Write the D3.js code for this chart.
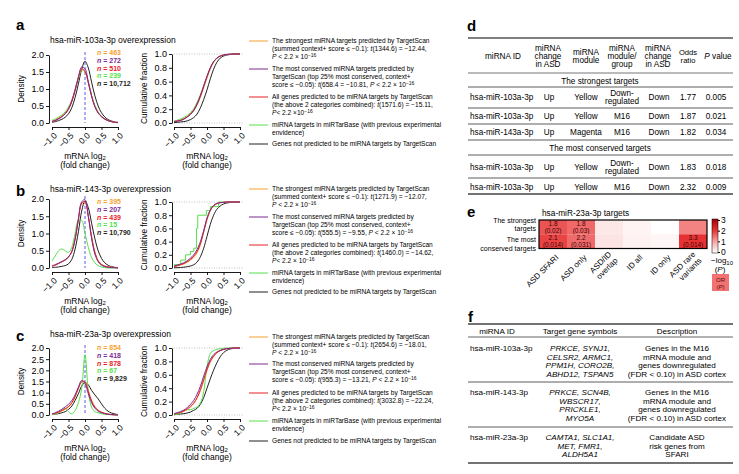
<!DOCTYPE html>
<html><head><meta charset="utf-8">
<script src="https://cdn.jsdelivr.net/npm/d3@7"></script>
<style>body{margin:0;background:#fff;} svg{font-family:"Liberation Sans", Arial, Helvetica, sans-serif;}</style>
</head><body><svg id="c" width="739" height="474"></svg>
<script>
// ---------------- DATA ----------------
const xGrid = [-1.0,-0.9,-0.8,-0.7,-0.6,-0.5,-0.4,-0.3,-0.2,-0.1,0.0,0.1,0.2,0.3,0.4,0.5,0.6,0.7,0.8,0.9,1.0];
const seriesKeys = ["strongest","conserved","all","mirtarbase","nontarget"];
const xTickVals = [-1,-0.5,0,0.5,1];
const xTickLabels = ["\u22121.0","\u22120.5","0.0","0.5","1.0"];
const densTicksAB = [0,0.5,1,1.5,2];
const densTickLabelsAB = ["0.0","0.5","1.0","1.5","2.0"];
const densTicksC = [0,0.5,1,1.5,2,2.5,3];
const densTickLabelsC = ["0.0","0.5","1.0","1.5","2.0","2.5","2.0"];
const cumTicks = [0,0.2,0.4,0.6,0.8,1.0];
const cumTickLabels = ["0.0","0.2","0.4","0.6","0.8","1.0"];

const titles = ["hsa-miR-103a-3p overexpression","hsa-miR-143-3p overexpression","hsa-miR-23a-3p overexpression"];
const nA = ["463","272","510","239","10,712"];
const nB = ["395","207","439","15","10,790"];
const nC = ["854","418","878","67","9,829"];

// panel a densities
const densA_strongest = [0.06,0.09,0.14,0.2,0.29,0.43,0.66,0.98,1.33,1.58,1.5,1.2,0.8,0.5,0.31,0.19,0.12,0.07,0.04,0.02,0.01];
const densA_conserved = [0.04,0.07,0.12,0.18,0.27,0.4,0.62,0.95,1.35,1.65,1.6,1.22,0.8,0.48,0.29,0.18,0.11,0.07,0.04,0.02,0.01];
const densA_all       = [0.05,0.08,0.13,0.19,0.28,0.42,0.65,0.98,1.35,1.6,1.52,1.18,0.78,0.48,0.3,0.19,0.12,0.07,0.04,0.02,0.01];
const densA_mirtarbase= [0.08,0.12,0.17,0.24,0.33,0.47,0.68,0.98,1.3,1.55,1.5,1.2,0.82,0.52,0.32,0.2,0.12,0.07,0.04,0.02,0.01];
const densA_nontarget = [0.02,0.04,0.07,0.11,0.17,0.27,0.45,0.75,1.15,1.58,1.82,1.62,1.2,0.8,0.5,0.3,0.18,0.1,0.06,0.03,0.02];
// panel b densities
const densB_strongest = [0.05,0.08,0.13,0.18,0.23,0.32,0.48,0.84,1.4,1.86,1.9,1.5,0.92,0.47,0.22,0.11,0.06,0.03,0.02,0.01,0.0];
const densB_conserved = [0.06,0.1,0.14,0.19,0.24,0.32,0.47,0.82,1.42,1.92,1.98,1.5,0.85,0.4,0.18,0.08,0.04,0.02,0.01,0.01,0.0];
const densB_all       = [0.05,0.08,0.13,0.18,0.23,0.32,0.48,0.85,1.42,1.88,1.92,1.5,0.9,0.45,0.2,0.1,0.05,0.03,0.02,0.01,0.0];
const densB_mirtarbase= [0.2,0.35,0.5,0.55,0.5,0.45,0.6,1.0,1.38,1.38,1.0,0.6,0.3,0.15,0.07,0.03,0.01,0.0,0.0,0.0,0.0];
const densB_nontarget = [0.01,0.02,0.03,0.05,0.07,0.12,0.25,0.55,1.05,1.65,1.95,1.75,1.3,0.85,0.5,0.28,0.15,0.08,0.04,0.02,0.01];
// panel c densities
const densC_strongest = [0.04,0.07,0.12,0.18,0.26,0.35,0.52,0.8,1.18,1.48,1.5,1.1,0.66,0.38,0.22,0.13,0.07,0.04,0.02,0.01,0.0];
const densC_conserved = [0.05,0.1,0.17,0.26,0.36,0.48,0.65,0.9,1.25,1.55,1.4,0.95,0.55,0.3,0.17,0.1,0.06,0.03,0.02,0.01,0.0];
const densC_all       = [0.04,0.08,0.13,0.2,0.28,0.38,0.55,0.82,1.2,1.5,1.48,1.05,0.62,0.35,0.2,0.12,0.07,0.04,0.02,0.01,0.0];
const densC_mirtarbase= [0.02,0.05,0.1,0.2,0.3,0.15,0.05,0.2,0.55,1.2,2.7,1.1,0.35,0.15,0.1,0.06,0.03,0.02,0.01,0.0,0.0];
const densC_nontarget = [0.02,0.04,0.06,0.1,0.15,0.25,0.4,0.65,0.95,1.3,1.45,1.35,1.1,0.9,0.72,0.5,0.3,0.17,0.09,0.05,0.02];

// cumulative fractions
const cumA_strongest = [0.02,0.03,0.04,0.06,0.09,0.13,0.18,0.26,0.37,0.51,0.65,0.78,0.88,0.94,0.97,0.985,0.993,0.997,1,1,1];
const cumA_conserved = [0.015,0.025,0.035,0.055,0.085,0.125,0.18,0.27,0.39,0.53,0.67,0.8,0.89,0.94,0.97,0.985,0.993,0.997,1,1,1];
const cumA_all       = [0.02,0.03,0.04,0.06,0.09,0.13,0.19,0.28,0.4,0.54,0.68,0.8,0.89,0.94,0.97,0.985,0.993,0.997,1,1,1];
const cumA_mirtarbase= [0.03,0.04,0.06,0.08,0.11,0.15,0.21,0.3,0.41,0.54,0.67,0.79,0.88,0.94,0.97,0.985,0.993,0.997,1,1,1];
const cumA_nontarget = [0.005,0.01,0.015,0.02,0.03,0.05,0.08,0.13,0.22,0.34,0.48,0.64,0.78,0.88,0.94,0.97,0.985,0.993,0.997,1,1];

const cumB_strongest = [0.02,0.03,0.045,0.06,0.085,0.12,0.16,0.23,0.35,0.54,0.73,0.87,0.94,0.975,0.99,0.995,1,1,1,1,1];
const cumB_conserved = [0.03,0.045,0.06,0.08,0.11,0.15,0.2,0.28,0.4,0.57,0.76,0.88,0.95,0.98,0.99,0.995,1,1,1,1,1];
const cumB_all       = [0.02,0.035,0.05,0.07,0.095,0.13,0.18,0.25,0.37,0.55,0.74,0.87,0.94,0.975,0.99,0.995,1,1,1,1,1];
const cumB_mirtarbaseX = [-1.0,-0.8,-0.65,-0.5,-0.4,-0.32,-0.28,-0.02,0.1,0.35,1.0];
const cumB_mirtarbaseY = [0.05,0.12,0.2,0.25,0.3,0.6,0.8,0.87,0.93,1.0,1.0];
const cumB_nontarget = [0.003,0.005,0.008,0.012,0.02,0.03,0.05,0.09,0.17,0.3,0.48,0.66,0.8,0.89,0.94,0.97,0.985,0.993,0.997,1,1];

const cumC_strongest = [0.015,0.025,0.04,0.055,0.08,0.12,0.17,0.25,0.36,0.51,0.66,0.79,0.87,0.93,0.96,0.98,0.99,0.995,1,1,1];
const cumC_conserved = [0.02,0.035,0.05,0.075,0.11,0.16,0.22,0.31,0.43,0.58,0.72,0.83,0.9,0.94,0.965,0.98,0.99,0.995,1,1,1];
const cumC_all       = [0.015,0.025,0.04,0.06,0.09,0.13,0.18,0.26,0.38,0.53,0.68,0.8,0.88,0.93,0.96,0.98,0.99,0.995,1,1,1];
const cumC_mirtarbase= [0.0,0.01,0.03,0.06,0.08,0.08,0.1,0.12,0.18,0.35,0.72,0.92,0.96,0.98,0.99,0.995,1,1,1,1,1];
const cumC_nontarget = [0.005,0.01,0.015,0.02,0.03,0.045,0.07,0.1,0.16,0.26,0.4,0.54,0.67,0.78,0.87,0.93,0.965,0.985,0.993,0.997,1];

// legends (*..* italic, ^..^ superscript)
const legendA = [
 ["The strongest miRNA targets predicted by TargetScan","(summed context+ score \u2264 \u22120.1): *t*(1344.6) = \u221212.44,","*P* < 2.2 \u00d7 10^\u221216^"],
 ["The most conserved miRNA targets predicted by","TargetScan (top 25% most conserved, context+","score \u2264 \u22120.05): *t*(658.4 = \u221210.81, *P* < 2.2 \u00d7 10^\u221216^"],
 ["All genes predicted to be miRNA targets by TargetScan","(the above 2 categories combined): *t*(1571.6) = \u221215.11,","*P*< 2.2 \u00d710^\u221216^"],
 ["miRNA targets in miRTarBase (with previous experimental","envidence)"],
 ["Genes not predicted to be miRNA targets by TargetScan"]];
const legendB = [
 ["The strongest miRNA targets predicted by TargetScan","(summed context+ score \u2264 \u22120.1): *t*(1271.9) = \u221212.07,","*P* < 2.2 \u00d7 10^\u221216^"],
 ["The most conserved miRNA targets predicted by","TargetScan (top 25% most conserved, context+","score \u2264 \u22120.05): *t*(555.5) = \u22129.55, *P* < 2.2 \u00d7 10^\u221216^"],
 ["All genes predicted to be miRNA targets by TargetScan","(the above 2 categories combined): *t*(1460.0) = \u221214.62,","*P*< 2.2 \u00d7 10^\u221216^"],
 ["miRNA targets in miRTarBase (with previous experimental","envidence)"],
 ["Genes not predicted to be miRNA targets by TargetScan"]];
const legendC = [
 ["The strongest miRNA targets predicted by TargetScan","(summed context+ score \u2264 \u22120.1): *t*(2654.6) = \u221218.01,","*P* < 2.2 \u00d7 10^\u221216^"],
 ["The most conserved miRNA targets predicted by","TargetScan (top 25% most conserved, context+","score \u2264 \u22120.05): *t*(955.3) = \u221213.21, *P* < 2.2 \u00d7 10^\u221216^"],
 ["All genes predicted to be miRNA targets by TargetScan","(the above 2 categories combined): *t*(3032.8) = \u221222.24,","*P*< 2.2 \u00d7 10^\u221216^"],
 ["miRNA targets in miRTarBase (with previous experimental","envidence)"],
 ["Genes not predicted to be miRNA targets by TargetScan"]];

// table d
const dHeaders = [["miRNA ID"],["miRNA","change","in ASD"],["miRNA","module"],["miRNA","module/","group"],["miRNA","change","in ASD"],["Odds","ratio"],["*P* value"]];
const dSections = ["The strongest targets","The most conserved targets"];
const dId = ["hsa-miR-103a-3p","hsa-miR-103a-3p","hsa-miR-143a-3p","hsa-miR-103a-3p","hsa-miR-103a-3p"];
const dChange = ["Up","Up","Up","Up","Up"];
const dModule = ["Yellow","Yellow","Magenta","Yellow","Yellow"];
const dGroup = [["Down-","regulated"],["M16"],["M16"],["Down-","regulated"],["M16"]];
const dTargetChange = ["Down","Down","Down","Down","Down"];
const dOdds = ["1.77","1.87","1.82","1.83","2.32"];
const dP = ["0.005","0.021","0.034","0.018","0.009"];

// heatmap e
const heatTitle = "hsa-miR-23a-3p targets";
const heatRowLabels = [["The strongest","targets"],["The most","conserved targets"]];
const heatColLabels = [["ASD SFARI"],["ASD only"],["ASD/ID","overlap"],["ID all"],["ID only"],["ASD rare","variants"]];
const heatStrongest = [1.7,1.52,0.25,0.12,0.0,1.3];
const heatConserved = [1.85,1.51,0.3,0.15,0.1,2.0];
const orStrongest = ["1.8","1.8","","","",""];
const pStrongest = ["(0.02)","(0.03)","","","",""];
const orConserved = ["2.1","2.2","","","","3.3"];
const pConserved = ["(0.014)","(0.031)","","","","(0.014)"];
const colorbarTicks = [0,1,2,3];

// table f
const fHeaders = ["miRNA ID","Target gene symbols","Description"];
const fId = ["hsa-miR-103a-3p","hsa-miR-143-3p","hsa-miR-23a-3p"];
const fGenes = [["PRKCE, SYNJ1,","CELSR2, ARMC1,","PPM1H, CORO2B,","ABHD12, TSPAN5"],["PRKCE, SCN4B,","WBSCR17,","PRICKLE1,","MYO5A"],["CAMTA1, SLC1A1,","MET, FMR1,","ALDH5A1"]];
const fDesc = [["Genes in the M16","mRNA module and","genes downregulated","(FDR < 0.10) in ASD cortex"],["Genes in the M16","mRNA module and","genes downregulated","(FDR < 0.10) in ASD cortex"],["Candidate ASD","risk genes from","SFARI"]];

// ---------------- STYLE ----------------
const seriesColors = ["#f7a030","#7d2a92","#e8202a","#55e04a","#231f20"];
const drawOrder = [4,3,0,2,1];
const svg = d3.select("#c");

function richText(sel, str, fs) {
  const parts = str.split(/(\*[^*]+\*|\^[^^]+\^)/).filter(s => s.length);
  let raised = false;
  parts.forEach(p => {
    const t = sel.append("tspan");
    if (p[0] === "*") { t.style("font-style","italic").text(p.slice(1,-1)); if (raised){t.attr("dy", fs*0.35); raised=false;} }
    else if (p[0] === "^") { t.style("font-size",(fs*0.75)+"px").attr("dy", -fs*0.35).text(p.slice(1,-1)); raised = true; }
    else { t.text(p); if (raised){t.attr("dy", fs*0.35); raised=false;} }
  });
}

// ---------------- PANELS a,b,c ----------------
const panels = [
 {letter:"a", letterY:30, titleY:40, title:titles[0], densTop:55, dens0:123, densMax:2, dTicks:densTicksAB, dLabels:densTickLabelsAB,
  cumTop:54, cum0:123, n:nA, nY:53, legend:legendA, legY:[41,69,97,125,144],
  dens:[densA_strongest,densA_conserved,densA_all,densA_mirtarbase,densA_nontarget],
  cum:[cumA_strongest,cumA_conserved,cumA_all,cumA_mirtarbase,cumA_nontarget]},
 {letter:"b", letterY:196, titleY:189, title:titles[1], densTop:199, dens0:268, densMax:2, dTicks:densTicksAB, dLabels:densTickLabelsAB,
  cumTop:202, cum0:268, n:nB, nY:202, legend:legendB, legY:[189,217,245,273,292],
  dens:[densB_strongest,densB_conserved,densB_all,densB_mirtarbase,densB_nontarget],
  cum:[cumB_strongest,cumB_conserved,cumB_all,null,cumB_nontarget]},
 {letter:"c", letterY:341, titleY:334, title:titles[2], densTop:348, dens0:415, densMax:3, dTicks:densTicksC, dLabels:densTickLabelsC,
  cumTop:348, cum0:415, n:nC, nY:348, legend:legendC, legY:[337,364,393,421,441],
  dens:[densC_strongest,densC_conserved,densC_all,densC_mirtarbase,densC_nontarget],
  cum:[cumC_strongest,cumC_conserved,cumC_all,cumC_mirtarbase,cumC_nontarget]}
];

function styleXAxis(g) {
  g.selectAll("path,line").attr("stroke","#000").attr("stroke-width",0.9);
  g.selectAll("text").attr("x",0).attr("y",0).attr("dy","0.35em")
   .attr("transform","translate(3,7) rotate(-45)").style("text-anchor","end")
   .style("font-size","8.5px").style("font-family",null).attr("fill","#000");
}
function styleYAxis(g) {
  g.selectAll("path,line").attr("stroke","#000").attr("stroke-width",0.9);
  g.selectAll("text").style("font-size","9px").style("font-family",null).attr("fill","#000").attr("x",-5);
}
function xLabel(g, cx, y) {
  const t = g.append("text").attr("x",cx).attr("y",y).attr("text-anchor","middle").style("font-size","8.5px");
  t.append("tspan").text("mRNA log");
  t.append("tspan").attr("dy",1.8).style("font-size","6px").text("2");
  g.append("text").attr("x",cx).attr("y",y+9.5).attr("text-anchor","middle").style("font-size","8.5px").text("(fold change)");
}

panels.forEach(p => {
  const g = svg.append("g");
  g.append("text").attr("x",16).attr("y",p.letterY).style("font-size","15px").style("font-weight","bold").text(p.letter);
  g.append("text").attr("x",50).attr("y",p.titleY).attr("dy","0.35em").style("font-size","8.5px").text(p.title);

  // density
  const x = d3.scaleLinear().domain([-1,1]).range([52,118]);
  const y = d3.scaleLinear().domain([0,p.densMax]).range([p.dens0,p.densTop]);
  const axisY = p.dens0 + 4;
  g.append("g").attr("transform",`translate(0,${axisY})`)
   .call(d3.axisBottom(x).tickValues(xTickVals).tickFormat((d,i)=>xTickLabels[i]).tickSize(3).tickSizeOuter(0)).call(styleXAxis);
  g.append("g").attr("transform","translate(49,0)")
   .call(d3.axisLeft(y).tickValues(p.dTicks).tickFormat((d,i)=>p.dLabels[i]).tickSize(3).tickSizeOuter(0)).call(styleYAxis);
  g.append("line").attr("x1",x(0)).attr("x2",x(0)).attr("y1",y(p.densMax)-3).attr("y2",y(0))
   .attr("stroke","#5b5bf0").attr("stroke-width",1).attr("stroke-dasharray","3,2");
  const dLine = d3.line().x((d,i)=>x(xGrid[i])).y(d=>y(d)).curve(d3.curveCatmullRom.alpha(0.5));
  drawOrder.forEach(k => {
    g.append("path").attr("d",dLine(p.dens[k])).attr("fill","none").attr("stroke",seriesColors[k]).attr("stroke-width",1);
  });
  g.append("text").attr("transform",`translate(24,${(p.densTop+p.dens0)/2}) rotate(-90)`).attr("text-anchor","middle").style("font-size","8.3px").text("Density");
  p.n.forEach((v,k) => {
    const t = g.append("text").attr("x",97).attr("y",p.nY + k*7.6).attr("dy","0.35em").style("font-size","7px").style("font-weight","bold").attr("fill",seriesColors[k]);
    t.append("tspan").style("font-style","italic").text("n");
    t.append("tspan").text(" = " + v);
  });
  xLabel(g, 85, axisY + 31.5);

  // cumulative
  const xc = d3.scaleLinear().domain([-1,1]).range([174,240]);
  const yc = d3.scaleLinear().domain([0,1]).range([p.cum0,p.cumTop]);
  [0,1].forEach(v => g.append("line").attr("x1",xc(-1)).attr("x2",xc(1.12)).attr("y1",yc(v)).attr("y2",yc(v))
     .attr("stroke","#aaa").attr("stroke-width",0.7).attr("stroke-dasharray","1,1.5"));
  g.append("g").attr("transform",`translate(0,${p.cum0+4})`)
   .call(d3.axisBottom(xc).tickValues(xTickVals).tickFormat((d,i)=>xTickLabels[i]).tickSize(3).tickSizeOuter(0)).call(styleXAxis);
  g.append("g").attr("transform","translate(172,0)")
   .call(d3.axisLeft(yc).tickValues(cumTicks).tickFormat((d,i)=>cumTickLabels[i]).tickSize(3).tickSizeOuter(0)).call(styleYAxis);
  const cLine = d3.line().x((d,i)=>xc(xGrid[i])).y(d=>yc(d)).curve(d3.curveMonotoneX);
  drawOrder.forEach(k => {
    if (p.cum[k]) {
      g.append("path").attr("d",cLine(p.cum[k])).attr("fill","none").attr("stroke",seriesColors[k]).attr("stroke-width",1);
    } else {
      const st = d3.line().x((d,i)=>xc(cumB_mirtarbaseX[i])).y(d=>yc(d)).curve(d3.curveStepAfter);
      g.append("path").attr("d",st(cumB_mirtarbaseY)).attr("fill","none").attr("stroke",seriesColors[k]).attr("stroke-width",1);
    }
  });
  g.append("text").attr("transform",`translate(147,${(p.cumTop+p.cum0)/2}) rotate(-90)`).attr("text-anchor","middle").style("font-size","8.3px").text("Cumulative fraction");
  xLabel(g, 207, p.cum0 + 4 + 31.5);

  // legend
  const fs = 6.6;
  p.legend.forEach((lines,k) => {
    const ly = p.legY[k];
    g.append("line").attr("x1",249).attr("x2",268).attr("y1",ly).attr("y2",ly).attr("stroke",seriesColors[k]).attr("stroke-width",1);
    lines.forEach((ln,j) => {
      const t = g.append("text").attr("x",272).attr("y",ly + j*8).attr("dy","0.35em").style("font-size",fs+"px");
      richText(t, ln, fs);
    });
  });
});

// ---------------- TABLE d ----------------
(function(){
  const g = svg.append("g");
  g.append("text").attr("x",467).attr("y",31).style("font-size","15px").style("font-weight","bold").text("d");
  const fs = 8.2;
  const rule = (y,w,c) => g.append("line").attr("x1",468).attr("x2",733).attr("y1",y).attr("y2",y).attr("stroke",c||"#333").attr("stroke-width",w);
  rule(38,1.6,"#555"); rule(73,1.2,"#777"); rule(87,0.8); rule(108,0.8); rule(124,0.8); rule(140,0.8); rule(155,0.8); rule(178,0.8); rule(194,1.6,"#444");
  const colX = [503,548,586,622,658,688,716];
  const headerLine = 8.3;
  dHeaders.forEach((lines,i) => {
    const y0 = 56 - (lines.length-1)*headerLine/2;
    lines.forEach((ln,j) => {
      const t = g.append("text").attr("x",colX[i]+(i===6?2:0)).attr("y",y0+j*headerLine).attr("dy","0.35em").attr("text-anchor","middle").style("font-size",(i===5?7.6:fs)+"px");
      richText(t, ln, fs);
    });
  });
  g.append("text").attr("x",600).attr("y",81).attr("dy","0.35em").attr("text-anchor","middle").style("font-size",fs+"px").text(dSections[0]);
  g.append("text").attr("x",600).attr("y",148).attr("dy","0.35em").attr("text-anchor","middle").style("font-size",fs+"px").text(dSections[1]);
  const rowY = [97.5,116.5,132.5,167,187];
  dId.forEach((id,r) => {
    const y = rowY[r];
    const txt = (x,s,anchor) => g.append("text").attr("x",x).attr("y",y).attr("dy","0.35em").attr("text-anchor",anchor||"middle").style("font-size",fs+"px").text(s);
    txt(470,id,"start");
    txt(549,dChange[r]);
    txt(586,dModule[r]);
    const gl = dGroup[r];
    gl.forEach((s,j) => g.append("text").attr("x",622).attr("y",y-(gl.length-1)*4+j*8).attr("dy","0.35em").attr("text-anchor","middle").style("font-size",fs+"px").text(s));
    txt(659,dTargetChange[r]);
    txt(688,dOdds[r]);
    txt(716,dP[r]);
  });
})();

// ---------------- HEATMAP e ----------------
(function(){
  const g = svg.append("g");
  g.append("text").attr("x",467).attr("y",217).style("font-size","15px").style("font-weight","bold").text("e");
  g.append("text").attr("x",542).attr("y",213).attr("dy","0.35em").style("font-size","8.3px").text(heatTitle);
  const xb = d3.scaleBand().domain(d3.range(heatColLabels.length)).range([539,707]);
  const yb = d3.scaleBand().domain([0,1]).range([220,248.5]);
  const color = d3.scaleLinear().domain([0,1,2,3]).range(["#ffffff","#f8a4a4","#e63232","#a0000f"]);
  const rows = [heatStrongest, heatConserved];
  const ors = [orStrongest, orConserved];
  const ps = [pStrongest, pConserved];
  rows.forEach((vals,r) => {
    vals.forEach((v,c) => {
      g.append("rect").attr("x",xb(c)).attr("y",yb(r)).attr("width",xb.bandwidth()).attr("height",yb.bandwidth()).attr("fill",color(v));
      if (ors[r][c]) {
        const cx = xb(c)+xb.bandwidth()/2, cy = yb(r)+yb.bandwidth()/2;
        g.append("text").attr("x",cx).attr("y",cy-3.3).attr("dy","0.35em").attr("text-anchor","middle").style("font-size","6.4px").attr("fill","#3a0505").text(ors[r][c]);
        g.append("text").attr("x",cx).attr("y",cy+3.2).attr("dy","0.35em").attr("text-anchor","middle").style("font-size","6.4px").attr("fill","#3a0505").text(ps[r][c]);
      }
    });
  });
  g.append("rect").attr("x",539).attr("y",220).attr("width",168).attr("height",28.5).attr("fill","none").attr("stroke","#000").attr("stroke-width",1.2);
  const rowLabelY = [[220.5,228.6],[240,248.1]];
  heatRowLabels.forEach((lines,r) => {
    lines.forEach((ln,j) => g.append("text").attr("x",536).attr("y",rowLabelY[r][j]).attr("dy","0.35em").attr("text-anchor","end").style("font-size","7px").text(ln));
  });
  heatColLabels.forEach((lines,c) => {
    const cx = xb(c)+xb.bandwidth()/2 + 4;
    const gg = g.append("g").attr("transform",`translate(${cx},256) rotate(-45)`);
    lines.forEach((ln,j) => gg.append("text").attr("x",0).attr("y",(lines.length===1?0:(j===0?-4.5:4.5))).attr("dy","0.35em").attr("text-anchor","end").style("font-size","8px").text(ln));
  });
  // colorbar
  const yc = d3.scaleLinear().domain([0,3]).range([252,220]);
  const defs = svg.append("defs");
  const grad = defs.append("linearGradient").attr("id","cb").attr("x1",0).attr("x2",0).attr("y1",1).attr("y2",0);
  d3.range(0,3.01,0.25).forEach(v => grad.append("stop").attr("offset",v/3).attr("stop-color",color(v)));
  g.append("rect").attr("x",712).attr("y",219).attr("width",6).attr("height",34).attr("fill","url(#cb)").attr("stroke","#000").attr("stroke-width",0.5);
  g.append("g").attr("transform","translate(718,0)").call(d3.axisRight(yc).tickValues(colorbarTicks).tickFormat(d3.format("d")).tickSize(2).tickSizeOuter(0))
    .call(a => { a.select(".domain").remove(); a.selectAll("line").attr("stroke","#000"); a.selectAll("text").style("font-size","8.5px").style("font-family",null).attr("fill","#000").attr("x",3); });
  const lt = g.append("text").attr("x",711).attr("y",260).attr("dy","0.35em").style("font-size","8px");
  lt.append("tspan").text("\u2212log");
  lt.append("tspan").attr("dy",2).style("font-size","6px").text("10");
  const pt = g.append("text").attr("x",720).attr("y",269.5).attr("dy","0.35em").attr("text-anchor","middle").style("font-size","8px");
  pt.append("tspan").text("("); pt.append("tspan").style("font-style","italic").text("P"); pt.append("tspan").text(")");
  g.append("rect").attr("x",712).attr("y",274).attr("width",17).attr("height",17).attr("fill","#f27272");
  g.append("text").attr("x",720.5).attr("y",280).attr("dy","0.35em").attr("text-anchor","middle").style("font-size","6px").attr("fill","#5a0a0a").text("OR");
  const pp = g.append("text").attr("x",720.5).attr("y",287).attr("dy","0.35em").attr("text-anchor","middle").style("font-size","6px").attr("fill","#5a0a0a");
  pp.append("tspan").text("("); pp.append("tspan").style("font-style","italic").text("P"); pp.append("tspan").text(")");
})();

// ---------------- TABLE f ----------------
(function(){
  const g = svg.append("g");
  g.append("text").attr("x",468).attr("y",322).style("font-size","15px").style("font-weight","bold").text("f");
  const fs = 8.1;
  const rule = (y,w,c) => g.append("line").attr("x1",468).attr("x2",733).attr("y1",y).attr("y2",y).attr("stroke",c||"#333").attr("stroke-width",w);
  rule(324,1.6,"#444"); rule(337,0.9,"#555"); rule(382,0.8); rule(427,0.8); rule(463,1.6,"#444");
  const hx = [497,580,677];
  fHeaders.forEach((h,i) => g.append("text").attr("x",hx[i]).attr("y",331.5).attr("dy","0.35em").attr("text-anchor","middle").style("font-size",fs+"px").text(h));
  const rowTop = [348,392,437];
  const lh = 8.8;
  fId.forEach((id,r) => {
    g.append("text").attr("x",470).attr("y",rowTop[r]).attr("dy","0.35em").style("font-size",fs+"px").text(id);
    fGenes[r].forEach((ln,j) => g.append("text").attr("x",580).attr("y",rowTop[r]+j*lh).attr("dy","0.35em").attr("text-anchor","middle").style("font-size",fs+"px").style("font-style","italic").text(ln));
    fDesc[r].forEach((ln,j) => g.append("text").attr("x",677).attr("y",rowTop[r]+j*lh).attr("dy","0.35em").attr("text-anchor","middle").style("font-size",fs+"px").text(ln));
  });
})();
</script></body></html>
